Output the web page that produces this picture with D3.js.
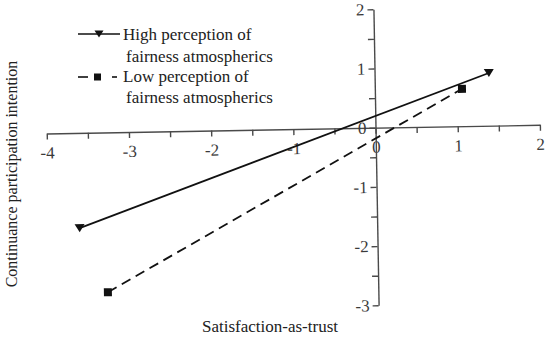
<!DOCTYPE html>
<html>
<head>
<meta charset="utf-8">
<script src="https://cdn.jsdelivr.net/npm/d3@7/dist/d3.min.js"></script>
<style>
  html, body { margin: 0; padding: 0; background: #fff; }
  svg { display: block; }
</style>
</head>
<body>
<svg id="chart" width="550" height="339"></svg>
<script>
// ---- data ----
const seriesNames = ["High perception of fairness atmospherics", "Low perception of fairness atmospherics"];
const highX = [-3.62, 1.39];
const highY = [-1.61, 0.89];
const lowX = [-3.29, 1.06];
const lowY = [-2.70, 0.63];
const xTickValues = [-4, -3.5, -3, -2.5, -2, -1.5, -1, -0.5, 0, 0.5, 1, 1.5, 2];
const xTickLabels = ["-4", "", "-3", "", "-2", "", "-1", "", "0", "", "1", "", "2"];
const yTickValues = [-3, -2.5, -2, -1.5, -1, -0.5, 0, 0.5, 1, 1.5, 2];
const yTickLabels = ["-3", "", "-2", "", "-1", "", "0", "", "1", "", "2"];
const xTitle = "Satisfaction-as-trust";
const yTitle = "Continuance participation intention";
const legendLines = [["High perception of", "fairness atmospherics"], ["Low perception of", "fairness atmospherics"]];

const FONT = "'Liberation Serif', 'Times New Roman', Tinos, 'DejaVu Serif', serif";

const svg = d3.select("#chart").attr("font-family", FONT);
const x = d3.scaleLinear().domain([-4, 2]).range([46.7, 539.9]);
const y = d3.scaleLinear().domain([-3, 2]).range([305.3, 9.3]);
const ox = x(0), oy = y(0);

const ink = "#111";
const axisInk = "#4a4a4a";
const textInk = "#3a3a3a";

// plot group, slightly rotated like the scanned original
const g = svg.append("g").attr("transform", `rotate(-1 ${ox} ${oy})`);

const xAxis = d3.axisBottom(x).tickValues(xTickValues)
  .tickFormat((d, i) => xTickLabels[i]).tickSize(6).tickPadding(7).tickSizeOuter(0);
const yAxis = d3.axisLeft(y).tickValues(yTickValues)
  .tickFormat((d, i) => yTickLabels[i]).tickSize(6).tickPadding(3).tickSizeOuter(0);

const gx = g.append("g").attr("transform", `translate(0,${oy})`).call(xAxis);
const gy = g.append("g").attr("transform", `translate(${ox},0)`).call(yAxis);
[gx, gy].forEach(a => {
  a.attr("font-family", FONT).attr("font-size", 17);
  a.select(".domain").attr("stroke", axisInk).attr("stroke-width", 1.4);
  a.selectAll(".tick line").attr("stroke", axisInk).attr("stroke-width", 1.4);
  a.selectAll(".tick text").attr("fill", textInk).attr("font-family", FONT).attr("font-size", 17);
});

// lines
const line = d3.line().x(d => x(d[0])).y(d => y(d[1]));
const highPts = highX.map((v, i) => [v, highY[i]]);
const lowPts = lowX.map((v, i) => [v, lowY[i]]);

g.append("path").datum(highPts).attr("d", line)
  .attr("fill", "none").attr("stroke", ink).attr("stroke-width", 1.8);
g.append("path").datum(lowPts).attr("d", line)
  .attr("fill", "none").attr("stroke", ink).attr("stroke-width", 1.8)
  .attr("stroke-dasharray", "10,6");

function triDown(cx, cy, w, h) {
  const p = d3.path();
  p.moveTo(cx - w / 2, cy - h / 2);
  p.lineTo(cx + w / 2, cy - h / 2);
  p.lineTo(cx, cy + h / 2);
  p.closePath();
  return p.toString();
}

g.selectAll(".hm").data(highPts).join("path")
  .attr("d", d => triDown(x(d[0]), y(d[1]), 10, 8)).attr("fill", ink);
g.selectAll(".lm").data(lowPts).join("rect")
  .attr("x", d => x(d[0]) - 4).attr("y", d => y(d[1]) - 4)
  .attr("width", 8).attr("height", 8).attr("fill", ink);

// legend
const lg = svg.append("g");
lg.append("line").attr("x1", 78).attr("x2", 120).attr("y1", 34).attr("y2", 34)
  .attr("stroke", ink).attr("stroke-width", 1.6);
lg.append("path").attr("d", triDown(99, 34, 9, 7)).attr("fill", ink);
lg.append("line").attr("x1", 78).attr("x2", 88).attr("y1", 77).attr("y2", 77)
  .attr("stroke", ink).attr("stroke-width", 1.6);
lg.append("rect").attr("x", 94).attr("y", 73.5).attr("width", 7).attr("height", 7).attr("fill", ink);
lg.append("line").attr("x1", 112).attr("x2", 117).attr("y1", 77).attr("y2", 77)
  .attr("stroke", ink).attr("stroke-width", 1.6);

const legendPos = [[[123, 39.5], [126, 61.5]], [[123, 82], [126, 103]]];
legendLines.forEach((pair, si) => {
  pair.forEach((t, li) => {
    lg.append("text").attr("x", legendPos[si][li][0]).attr("y", legendPos[si][li][1])
      .attr("fill", "#222").attr("font-family", FONT).attr("font-size", 17).text(t);
  });
});

// axis titles
svg.append("text").attr("x", 270).attr("y", 332).attr("text-anchor", "middle")
  .attr("fill", "#222").attr("font-family", FONT).attr("font-size", 17).text(xTitle);
svg.append("text").attr("transform", "translate(17,174) rotate(-90)")
  .attr("text-anchor", "middle").attr("fill", "#222").attr("font-family", FONT)
  .attr("font-size", 16).text(yTitle);
</script>
</body>
</html>
